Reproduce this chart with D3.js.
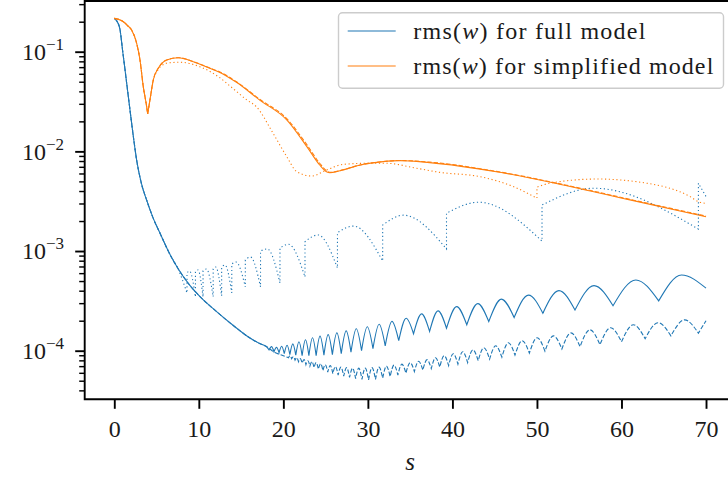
<!DOCTYPE html>
<html>
<head>
<meta charset="utf-8">
<script src="https://cdn.jsdelivr.net/npm/d3@7"></script>
<style>
  body { margin: 0; background: #fff; }
  svg { display: block; font-family: 'Liberation Serif', 'Times New Roman', serif; }
</style>
</head>
<body>
<svg width="728" height="481"></svg>
<script>
// ---- data: [s, rms(w)] ----
const xTicks = [0, 10, 20, 30, 40, 50, 60, 70];
const yMajor = [1e-4, 1e-3, 1e-2, 1e-1];
const yExponents = ['\u22124', '\u22123', '\u22122', '\u22121'];
const legendLabels = ['full model', 'simplified model'];

// smooth start shared by the three blue curves
const blueHead = [[0, 0.216], [0.35, 0.2], [0.67, 0.168], [1.0, 0.1], [1.27, 0.0661], [1.66, 0.0355],
  [2.13, 0.017], [2.65, 0.00813], [3.2, 0.00479], [3.83, 0.00324], [4.6, 0.00214], [5.41, 0.00151],
  [6.5, 9.55e-4], [7.5, 6.76e-4], [8.8, 4.68e-4], [10.14, 3.49e-4], [12.0, 2.51e-4], [14.08, 1.79e-4],
  [16.05, 1.34e-4], [17.2, 1.18e-4], [18.0, 1.10e-4]];

// blue solid: cusps and arch tops
const blueSolidCusps = [[18.31, 1.02e-4], [18.89, 9.77e-5],
  [19.49, 9.55e-5], [20.11, 9.33e-5], [20.77, 9.12e-5], [21.47, 9.02e-5], [22.22, 8.91e-5], [23.02, 8.91e-5],
  [23.88, 8.91e-5], [24.8, 9.02e-5], [25.8, 9.12e-5], [26.85, 9.33e-5], [28.0, 9.66e-5], [29.25, 1.00e-4],
  [30.6, 1.05e-4], [32.05, 1.12e-4], [33.65, 1.26e-4], [35.4, 1.48e-4], [37.3, 1.56e-4], [39.3, 1.68e-4],
  [41.7, 1.82e-4], [44.3, 1.96e-4], [47.3, 2.15e-4], [50.7, 2.38e-4], [54.5, 2.56e-4], [59.0, 2.83e-4],
  [64.4, 3.16e-4]];
const blueSolidPeaks = [[18.6, 1.10e-4], [19.19, 1.08e-4],
  [19.8, 1.11e-4], [20.44, 1.135e-4], [21.12, 1.17e-4], [21.85, 1.23e-4], [22.62, 1.29e-4], [23.45, 1.35e-4],
  [24.34, 1.40e-4], [25.3, 1.45e-4], [26.33, 1.51e-4], [27.43, 1.58e-4], [28.63, 1.66e-4], [29.93, 1.74e-4],
  [31.33, 1.84e-4], [32.85, 1.97e-4], [34.53, 2.12e-4], [36.35, 2.34e-4], [38.3, 2.51e-4], [40.5, 2.77e-4],
  [43.0, 2.97e-4], [45.8, 3.29e-4], [49.0, 3.61e-4], [52.6, 4.01e-4], [56.75, 4.50e-4], [61.7, 5.13e-4],
  [67.1, 5.75e-4]];
const blueSolidEnd = [70, 4.24e-4];

// blue dashed
const blueDashLead = [[19.0, 9.6e-5], [20.0, 8.91e-5]];
const blueDashCusps = [[20.6, 8.51e-5], [20.98, 8.32e-5], [21.38, 8.04e-5], [21.79, 7.76e-5], [22.22, 7.50e-5],
  [22.67, 7.24e-5], [23.14, 7.00e-5], [23.63, 6.76e-5], [24.14, 6.53e-5], [24.68, 6.31e-5], [25.25, 6.10e-5],
  [25.85, 5.89e-5], [26.48, 5.70e-5], [27.14, 5.55e-5], [27.83, 5.40e-5], [28.55, 5.25e-5], [29.3, 5.15e-5],
  [30.08, 5.10e-5], [30.9, 5.15e-5], [31.75, 5.30e-5], [32.63, 5.50e-5], [33.55, 5.70e-5], [34.5, 5.94e-5],
  [35.5, 6.17e-5], [36.5, 6.38e-5], [37.5, 6.61e-5], [38.5, 6.84e-5], [39.55, 7.08e-5], [40.65, 7.33e-5],
  [41.8, 7.59e-5], [43.05, 7.94e-5], [44.4, 8.22e-5], [45.85, 8.61e-5], [47.4, 9.02e-5], [49.1, 9.44e-5],
  [50.95, 9.89e-5], [52.95, 1.04e-4], [55.1, 1.10e-4], [57.45, 1.15e-4], [60.0, 1.23e-4], [62.8, 1.32e-4],
  [65.85, 1.41e-4], [69.1, 1.50e-4]];
const blueDashPeaks = [[20.79, 8.91e-5], [21.18, 8.71e-5], [21.59, 8.51e-5], [22.0, 8.32e-5], [22.45, 8.13e-5],
  [22.9, 7.94e-5], [23.38, 7.76e-5], [23.88, 7.59e-5], [24.41, 7.41e-5], [24.96, 7.24e-5], [25.55, 7.08e-5],
  [26.16, 6.92e-5], [26.81, 6.84e-5], [27.48, 6.76e-5], [28.19, 6.68e-5], [28.92, 6.68e-5], [29.69, 6.68e-5],
  [30.49, 6.76e-5], [31.32, 6.84e-5], [32.19, 7.00e-5], [33.09, 7.16e-5], [34.02, 7.33e-5], [35.0, 7.59e-5],
  [36.0, 7.85e-5], [37.0, 8.13e-5], [38.0, 8.51e-5], [39.02, 8.91e-5], [40.1, 9.33e-5], [41.22, 9.77e-5],
  [42.42, 1.02e-4], [43.72, 1.07e-4], [45.12, 1.12e-4], [46.62, 1.20e-4], [48.25, 1.26e-4], [50.02, 1.35e-4],
  [51.95, 1.41e-4], [54.02, 1.51e-4], [56.27, 1.62e-4], [58.72, 1.70e-4], [61.4, 1.82e-4], [64.32, 1.91e-4],
  [67.47, 2.04e-4]];
const blueDashEnd = [70, 2.0e-4];

// blue dotted: [s, bottom of cusp, top of jump]
const blueDotCusps = [[8.6, 3.80e-4, 6.03e-4], [9.6, 3.47e-4, 6.17e-4], [10.5, 3.47e-4, 6.31e-4],
  [11.7, 3.47e-4, 6.61e-4], [12.7, 3.55e-4, 6.92e-4], [13.9, 3.80e-4, 7.41e-4], [15.5, 4.37e-4, 8.13e-4],
  [17.3, 4.37e-4, 1.00e-3], [19.6, 4.79e-4, 1.07e-3], [22.56, 5.50e-4, 1.24e-3], [26.4, 6.76e-4, 1.53e-3],
  [31.75, 7.94e-4, 1.82e-3], [39.3, 1.05e-3, 2.40e-3], [50.6, 1.26e-3, 2.9e-3], [69.1, 1.66e-3, 4.79e-3]];
const blueDotPeaks = [[8.9, 6.31e-4], [9.9, 6.46e-4], [10.9, 6.61e-4], [12.0, 6.92e-4], [13.1, 7.24e-4],
  [14.4, 7.76e-4], [16.1, 8.71e-4], [18.1, 1.05e-3], [20.6, 1.17e-3], [24.1, 1.45e-3], [28.3, 1.78e-3],
  [34.2, 2.29e-3], [43.1, 3.09e-3], [56.7, 4.27e-3]];
const blueDotEnd = [70, 3.52e-3];

// orange curves
const orangeSolid = [[0, 0.216], [0.5, 0.211], [1.07, 0.2], [1.6, 0.182], [2.05, 0.165], [2.65, 0.121],
  [3.04, 0.0826], [3.43, 0.0446], [3.83, 0.0281], [3.95, 0.0237], [4.22, 0.0328], [4.61, 0.052], [5.2, 0.0681],
  [6.2, 0.0826], [7.57, 0.0871], [9.35, 0.0794], [11.3, 0.0681], [12.3, 0.0631], [14.5, 0.049], [17.2, 0.0327],
  [20.4, 0.0207], [22.8, 0.0111], [24.3, 0.0073], [25.1, 0.00625], [25.5, 0.00611], [26.7, 0.0064],
  [29.1, 0.0073], [31.8, 0.00789], [33.8, 0.00807], [37.3, 0.00771], [45.2, 0.00625], [53.1, 0.0046],
  [61.0, 0.00326], [70, 0.00221]];
const orangeDash = [[0, 0.216], [0.5, 0.211], [1.07, 0.2], [1.6, 0.182], [2.05, 0.165], [2.65, 0.121],
  [3.04, 0.0826], [3.43, 0.0446], [3.83, 0.0281], [3.95, 0.0237], [4.22, 0.0328], [4.61, 0.052], [5.2, 0.0681],
  [6.2, 0.0826], [7.57, 0.0871], [9.35, 0.0796], [11.3, 0.0685], [12.3, 0.0636], [14.5, 0.0496], [17.2, 0.0333],
  [20.4, 0.0213], [22.8, 0.0116], [24.3, 0.0076], [25.1, 0.0064], [25.6, 0.00615], [26.7, 0.0064],
  [29.1, 0.0073], [31.8, 0.0079], [33.8, 0.0081], [37.3, 0.0078], [45.2, 0.0063], [53.1, 0.00465],
  [61.0, 0.0033], [70, 0.00224]];
const orangeDot = [[0, 0.216], [0.5, 0.211], [1.07, 0.2], [1.6, 0.182], [2.05, 0.165], [2.65, 0.121],
  [3.04, 0.0826], [3.43, 0.0446], [3.83, 0.0281], [3.95, 0.0237], [4.22, 0.0328], [4.61, 0.051], [5.2, 0.0665],
  [5.6, 0.0725], [6.5, 0.0775], [7.8, 0.0783], [10.1, 0.0708], [12.3, 0.0562], [14.0, 0.043], [15.7, 0.0327],
  [16.8, 0.0281], [18.8, 0.0151], [20.4, 0.00885], [21.6, 0.00625], [23.35, 0.00566], [25.1, 0.0065],
  [27.1, 0.00741], [29.9, 0.00759], [32.2, 0.00759], [35.8, 0.00676], [38.5, 0.00616], [43.3, 0.00557],
  [47.2, 0.00443], [50.0, 0.00339], [50.0, 0.00437], [51.5, 0.00479], [57.1, 0.00528], [63.0, 0.00479],
  [68.1, 0.00352], [69.1, 0.00313], [70, 0.0030]];
const orangeCusps = [3.95];
const orangeDotCusps = [3.95, 50.0];

const blue = '#1f77b4', orange = '#ff7f0e';

// ---- layout ----
const svg = d3.select('svg');
const plotLeft = 84.7, plotRight = 735.6, plotTop = 1, plotBottom = 399.3;

svg.append('rect').attr('width', 728).attr('height', 481).attr('fill', '#fff');

const xScale = d3.scaleLinear().domain([-3.5, 73.5]).range([plotLeft, plotRight]);
const yScale = d3.scaleLog().domain([Math.pow(10, -4.4876), Math.pow(10, -0.4913)]).range([plotBottom, plotTop]);

svg.append('clipPath').attr('id', 'plot')
  .append('rect').attr('x', plotLeft).attr('y', plotTop)
  .attr('width', plotRight - plotLeft).attr('height', plotBottom - plotTop);

const line = d3.line()
  .x((d) => xScale(d[0]))
  .y((d) => yScale(d[1]))
  .curve(d3.curveMonotoneX);

// split a series at its cusps so the corners stay sharp, then join the pieces
function cuspPath(points, cusps) {
  const segs = [[]];
  points.forEach((p, i) => {
    segs[segs.length - 1].push(p);
    const next = points[i + 1];
    if (next && cusps.includes(p[0])) segs.push(next[0] === p[0] ? [] : [p]);
  });
  return segs
    .filter((s) => s.length > 1)
    .map((s, i) => {
      const d = line(s);
      return i ? 'L' + d.slice(1) : d;
    })
    .join('');
}

function archPoints(lead, cusps, peaks, end) {
  const pts = lead.slice();
  cusps.forEach((c, i) => {
    pts.push([c[0], c[1]]);
    if (c.length > 2) pts.push([c[0], c[2]]);
    if (peaks[i]) pts.push(peaks[i]);
  });
  pts.push(end);
  return pts;
}

const solidLead = blueHead;
const dashLead = blueHead.concat(blueDashLead);
const dotLead = blueHead.filter((d) => d[0] <= 7.5);

const series = [
  { pts: archPoints(dotLead, blueDotCusps, blueDotPeaks, blueDotEnd), cusps: blueDotCusps.map((c) => c[0]), color: blue, dash: '1.2,2.6' },
  { pts: archPoints(dashLead, blueDashCusps, blueDashPeaks, blueDashEnd), cusps: blueDashCusps.map((c) => c[0]), color: blue, dash: '4.4,1.9' },
  { pts: archPoints(solidLead, blueSolidCusps, blueSolidPeaks, blueSolidEnd), cusps: blueSolidCusps.map((c) => c[0]), color: blue, dash: null },
  { pts: orangeDot, cusps: orangeDotCusps, color: orange, dash: '1.2,2.6' },
  { pts: orangeDash, cusps: orangeCusps, color: orange, dash: '4.4,1.9' },
  { pts: orangeSolid, cusps: orangeCusps, color: orange, dash: null },
];

const plot = svg.append('g').attr('clip-path', 'url(#plot)');
plot.selectAll('.series')
  .data(series)
  .enter()
  .append('path')
  .attr('class', 'series')
  .attr('d', (d) => cuspPath(d.pts, d.cusps))
  .attr('fill', 'none')
  .attr('stroke', (d) => d.color)
  .attr('stroke-width', 1.1)
  .attr('stroke-dasharray', (d) => d.dash);

// ---- axes ----
const xAxis = svg.append('g')
  .attr('transform', `translate(0,${plotBottom})`)
  .call(d3.axisBottom(xScale).tickValues(xTicks).tickSize(9.5).tickPadding(11).tickFormat(d3.format('d')));
xAxis.select('.domain').remove();
xAxis.selectAll('line').attr('stroke', '#000').attr('stroke-width', 1.9);
xAxis.selectAll('text').attr('font-size', '24px').attr('fill', '#1a1a1a').attr('font-family', 'Liberation Serif');

const yMinor = yScale.ticks().filter((v) => !yMajor.includes(v));
const yMinorAxis = svg.append('g')
  .attr('transform', `translate(${plotLeft},0)`)
  .call(d3.axisLeft(yScale).tickValues(yMinor).tickSize(5.5).tickFormat(''));
yMinorAxis.select('.domain').remove();
yMinorAxis.selectAll('line').attr('stroke', '#000').attr('stroke-width', 1.45);

const yAxis = svg.append('g')
  .attr('transform', `translate(${plotLeft},0)`)
  .call(d3.axisLeft(yScale).tickValues(yMajor).tickSize(9.5).tickFormat(''));
yAxis.select('.domain').remove();
yAxis.selectAll('line').attr('stroke', '#000').attr('stroke-width', 1.9);

const yLabels = svg.append('g').attr('fill', '#1a1a1a');
yMajor.forEach((v, i) => {
  const t = yLabels.append('text')
    .attr('x', 64)
    .attr('y', yScale(v) + 8.3)
    .attr('text-anchor', 'end')
    .attr('font-size', '24px');
  t.append('tspan').text('10');
  t.append('tspan').attr('font-size', '17px').attr('dy', -10).text(yExponents[i]);
});

// spines
svg.append('path')
  .attr('d', `M${plotRight},${plotTop}H${plotLeft}V${plotBottom}H${plotRight}`)
  .attr('fill', 'none')
  .attr('stroke', '#000')
  .attr('stroke-width', 1.9);

svg.append('text')
  .attr('x', (plotLeft + plotRight) / 2)
  .attr('y', 470)
  .attr('text-anchor', 'middle')
  .attr('font-size', '25px')
  .attr('font-style', 'italic')
  .attr('fill', '#1a1a1a')
  .text('s');

// ---- legend ----
const legend = svg.append('g');
legend.append('rect')
  .attr('x', 338.5).attr('y', 12.7)
  .attr('width', 385).attr('height', 75.6)
  .attr('rx', 4)
  .attr('fill', '#fff')
  .attr('fill-opacity', 0.8)
  .attr('stroke', '#cccccc')
  .attr('stroke-width', 1.4);

const legendColors = [blue, orange];
const legendWidths = [232, 300];
legendLabels.forEach((label, i) => {
  const y = 31 + i * 35;
  legend.append('line')
    .attr('x1', 347.7).attr('x2', 395.7)
    .attr('y1', y).attr('y2', y)
    .attr('stroke', legendColors[i])
    .attr('stroke-width', 1.2);
  const t = legend.append('text')
    .attr('x', 413.3)
    .attr('y', y + 7.8)
    .attr('font-size', '24px')
    .attr('fill', '#1a1a1a')
    .attr('textLength', legendWidths[i])
    .attr('lengthAdjust', 'spacing');
  t.append('tspan').text('rms(');
  t.append('tspan').attr('font-style', 'italic').text('w');
  t.append('tspan').text(') for ' + label);
});
</script>
</body>
</html>
